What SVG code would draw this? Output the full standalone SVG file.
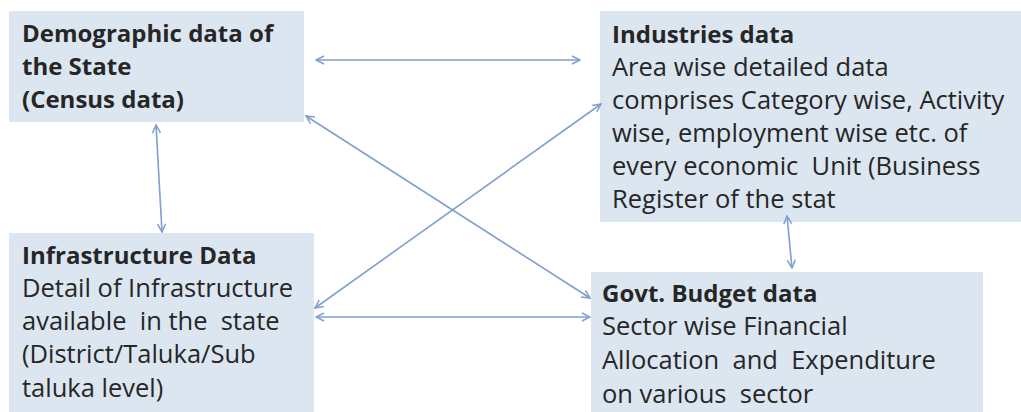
<svg xmlns="http://www.w3.org/2000/svg" width="1021" height="412" viewBox="0 0 1021 412">
<style>
.box{fill:#dce6f1;}
.t{font-family:"Open Sans","Liberation Sans",Arial,sans-serif;font-size:25.5px;fill:#262626;white-space:pre;}
.b{font-weight:bold;font-size:24px;}
.c{stroke:#7f9fd0;stroke-width:1.6;fill:none;marker-start:url(#ah);marker-end:url(#ah);}
</style>
<defs>
<marker id="ah" viewBox="0 0 10 10" refX="9" refY="5" markerWidth="10" markerHeight="10" markerUnits="userSpaceOnUse" orient="auto-start-reverse">
<path d="M1,1 L9,5 L1,9" fill="none" stroke="#7f9fd0" stroke-width="1.5"/>
</marker>
</defs>
<rect width="1021" height="412" fill="#ffffff"/>
<g id="demographic">
<rect class="box" x="9" y="11" width="295" height="111"/>
<text class="t b" x="22" y="42">Demographic data of</text>
<text class="t b" x="22" y="75">the State</text>
<text class="t b" x="22" y="108">(Census data)</text>
</g>
<g id="industries">
<rect class="box" x="600" y="11" width="421" height="211"/>
<text class="t b" x="612" y="43">Industries data</text>
<text class="t" x="612" y="76">Area wise detailed data</text>
<text class="t" x="612" y="109">comprises Category wise, Activity</text>
<text class="t" x="612" y="142">wise, employment wise etc. of</text>
<text class="t" x="612" y="175">every economic  Unit (Business</text>
<text class="t" x="612" y="208">Register of the stat</text>
</g>
<g id="infrastructure">
<rect class="box" x="9" y="233" width="305" height="179"/>
<text class="t b" x="22" y="264">Infrastructure Data</text>
<text class="t" x="22" y="297">Detail of Infrastructure</text>
<text class="t" x="22" y="330">available  in the  state</text>
<text class="t" x="22" y="363">(District/Taluka/Sub</text>
<text class="t" x="22" y="397">taluka level)</text>
</g>
<g id="budget">
<rect class="box" x="591" y="272" width="392" height="140"/>
<text class="t b" x="602" y="302">Govt. Budget data</text>
<text class="t" x="602" y="335">Sector wise Financial</text>
<text class="t" x="602" y="369">Allocation  and  Expenditure</text>
<text class="t" x="602" y="403">on various  sector</text>
</g>
<g id="connectors">
<line class="c" x1="316" y1="60" x2="580" y2="60"/>
<line class="c" x1="306" y1="116" x2="590" y2="298"/>
<line class="c" x1="315" y1="308" x2="601" y2="104"/>
<line class="c" x1="316" y1="317" x2="590" y2="317"/>
<line class="c" x1="156" y1="125" x2="162" y2="232"/>
<line class="c" x1="787" y1="216" x2="792" y2="268"/>
</g>
</svg>
